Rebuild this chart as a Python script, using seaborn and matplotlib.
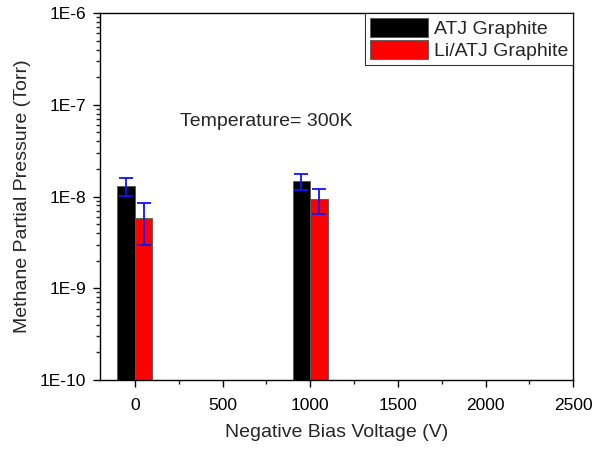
import numpy as np
import pandas as pd
import matplotlib
matplotlib.use("Agg")
import matplotlib.pyplot as plt
import matplotlib.ticker as mticker
import seaborn as sns

# --- values ---
voltages = [0, 1000]
atj = [1.30e-8, 1.46e-8]
atj_err = [0.28e-8, 0.20e-8]
li_atj = [5.8e-9, 0.93e-8]
li_atj_err = [2.6e-9, 0.20e-8]
series = ["ATJ Graphite", "Li/ATJ Graphite"]

df = pd.DataFrame({
    "voltage": voltages * 2,
    "pressure": atj + li_atj,
    "err": atj_err + li_atj_err,
    "material": [series[0]] * 2 + [series[1]] * 2,
})

sns.set_style("white")
plt.rcParams["font.family"] = ["Liberation Sans", "DejaVu Sans"]

fig = plt.figure(figsize=(5.94, 4.68), dpi=100)
ax = fig.add_axes([0.168, 0.188, 0.797, 0.784])

sns.barplot(data=df, x="voltage", y="pressure", hue="material", native_scale=True,
            palette=["#000000", "#ff0000"], width=0.2, errorbar=None,
            edgecolor="#555555", linewidth=0.6, saturation=1, ax=ax)

# error bars at the bar centres
for p in ax.patches:
    if p.get_height() <= 0 or p.get_width() == 0:
        continue
    cx = p.get_x() + p.get_width() / 2
    h = p.get_height()
    sel = df.loc[np.isclose(df["pressure"], h), "err"]
    if len(sel):
        ax.errorbar(cx, h, yerr=sel.iloc[0], color="#1010ff", capsize=5,
                    capthick=1.3, elinewidth=1.3, fmt="none")

ax.set_yscale("log")
ax.set_ylim(1e-10, 1e-6)
ax.set_xlim(-200, 2500)
ax.xaxis.set_major_locator(mticker.MultipleLocator(500))
ax.xaxis.set_minor_locator(mticker.MultipleLocator(250))
ax.yaxis.set_major_locator(mticker.LogLocator(base=10))
ax.yaxis.set_minor_locator(mticker.LogLocator(base=10, subs=np.arange(2, 10)))
ax.yaxis.set_minor_formatter(mticker.NullFormatter())
ax.yaxis.set_major_formatter(mticker.FuncFormatter(lambda v, p: "1E%d" % round(np.log10(v))))

ax.tick_params(axis="both", which="major", direction="out", length=5, width=1,
               labelsize=12.5, bottom=True, left=True, colors="black", pad=5)
ax.tick_params(axis="x", which="major", pad=8)
ax.tick_params(axis="both", which="minor", direction="out", length=3, width=1,
               bottom=True, left=True)
for s in ax.spines.values():
    s.set_color("black")
    s.set_linewidth(1)

ax.set_xlabel("Negative Bias Voltage (V)", fontsize=14, labelpad=8)
ax.set_ylabel("Methane Partial Pressure (Torr)", fontsize=14, labelpad=6)

ax.text(0.17, 0.705, "Temperature= 300K", transform=ax.transAxes,
        fontsize=14, va="center", ha="left")

leg = ax.legend(loc="upper right", fontsize=14, frameon=True, fancybox=False,
                edgecolor="black", borderpad=0.25, handlelength=3.0, handleheight=1.1,
                handletextpad=0.3, labelspacing=0.1, borderaxespad=0)
leg.get_frame().set_linewidth(0.8)

fig.savefig("out.png", dpi=100)
